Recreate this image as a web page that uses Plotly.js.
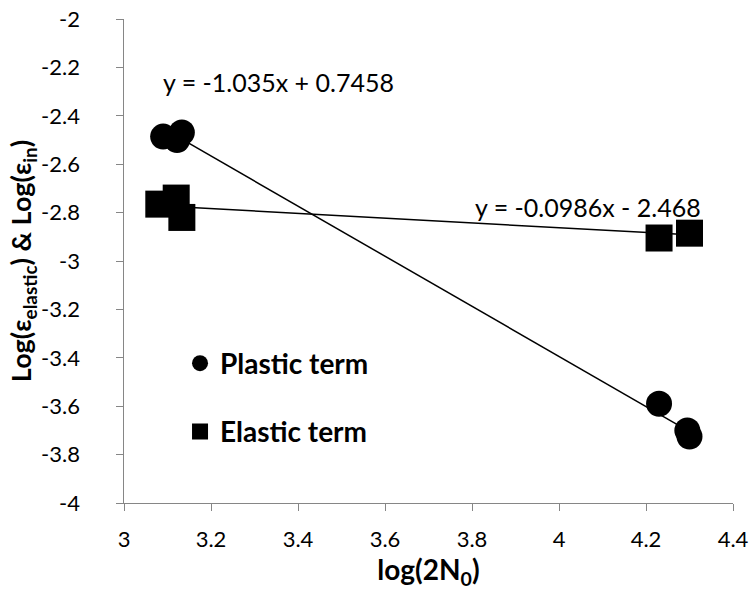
<!DOCTYPE html>
<html>
<head>
<meta charset="utf-8">
<script src="https://cdn.plot.ly/plotly-3.0.1.min.js"></script>
<style>html,body{margin:0;padding:0;background:#fff;}#chart{width:753px;height:595px;}</style>
</head>
<body>
<div id="chart"></div>
<script>
// Data
const plasticX = [3.09, 3.133, 3.122, 4.23, 4.295, 4.30];
const plasticY = [-2.486, -2.469, -2.50, -3.59, -3.70, -3.725];
const elasticX = [3.08, 3.12, 3.133, 4.23, 4.30];
const elasticY = [-2.765, -2.74, -2.82, -2.905, -2.885];
// Trendline coefficients shown on the chart [slope, intercept]
const plasticFit = [-1.035, 0.7458];
const elasticFit = [-0.0986, -2.468];
const plasticEq = 'y = -1.035x + 0.7458';
const elasticEq = 'y = -0.0986x - 2.468';
const xTicks = [3, 3.2, 3.4, 3.6, 3.8, 4, 4.2, 4.4];
const yTicks = [-2, -2.2, -2.4, -2.6, -2.8, -3, -3.2, -3.4, -3.6, -3.8, -4];

function fitLine(xs, c) {
  const lo = Math.min(...xs), hi = Math.max(...xs);
  return {x: [lo, hi], y: [c[0] * lo + c[1], c[0] * hi + c[1]]};
}
const pl = fitLine(plasticX, plasticFit);
const el = fitLine(elasticX, elasticFit);

const font = 'Lato, "Open Sans", sans-serif';
const traces = [
  {x: pl.x, y: pl.y, mode: 'lines', line: {color: '#000', width: 1.5}, showlegend: false, hoverinfo: 'skip'},
  {x: el.x, y: el.y, mode: 'lines', line: {color: '#000', width: 1.5}, showlegend: false, hoverinfo: 'skip'},
  {x: plasticX, y: plasticY, mode: 'markers', name: 'Plastic term', legendgroup: 'a',
   marker: {symbol: 'circle', size: 26, color: '#000'}},
  {x: elasticX, y: elasticY, mode: 'markers', name: 'Elastic term', legendgroup: 'b',
   marker: {symbol: 'square', size: 27, color: '#000'}}
];

const layout = {
  width: 753, height: 595,
  margin: {l: 124, r: 20, t: 19, b: 92},
  paper_bgcolor: '#fff', plot_bgcolor: '#fff',
  font: {family: font, color: '#000', size: 22},
  showlegend: true,
  legend: {x: 0.092, y: 0.34, xanchor: 'left', yanchor: 'top', bgcolor: 'rgba(0,0,0,0)',
           font: {family: font, size: 28, color: '#000', weight: 'bold'},
           traceorder: 'grouped', tracegroupgap: 29},
  xaxis: {
    range: [3, 4.4], tickvals: xTicks, ticktext: xTicks.map(String),
    showgrid: false, zeroline: false, showline: true, linecolor: '#868686', linewidth: 1,
    ticks: 'outside', ticklen: 7, tickcolor: '#868686', ticklabelstandoff: 10,
    tickfont: {family: font, size: 22, color: '#000'},
    title: {text: '<b>log(2N<sub>0</sub>)</b>', font: {family: font, size: 28, color: '#000'}, standoff: 8}
  },
  yaxis: {
    range: [-4, -2], tickvals: yTicks, ticktext: yTicks.map(v => String(v) + '\u00a0'),
    showgrid: false, zeroline: false, showline: true, linecolor: '#868686', linewidth: 1,
    ticks: 'outside', ticklen: 7, tickcolor: '#868686', ticklabelstandoff: 26,
    tickfont: {family: font, size: 22, color: '#000'},
    title: {text: '<b>Log(ε<sub>elastic</sub>) & Log(ε<sub>in</sub>)</b>', font: {family: font, size: 27, color: '#000'}, standoff: 1}
  },
  annotations: [
    {x: 3.356, y: -2.262, xref: 'x', yref: 'y', text: plasticEq, showarrow: false,
     font: {family: font, size: 25, color: '#000'}},
    {x: 4.067, y: -2.775, xref: 'x', yref: 'y', text: elasticEq, showarrow: false,
     font: {family: font, size: 25, color: '#000'}}
  ]
};

Plotly.newPlot('chart', traces, layout, {displayModeBar: false, staticPlot: true});
</script>
</body>
</html>
